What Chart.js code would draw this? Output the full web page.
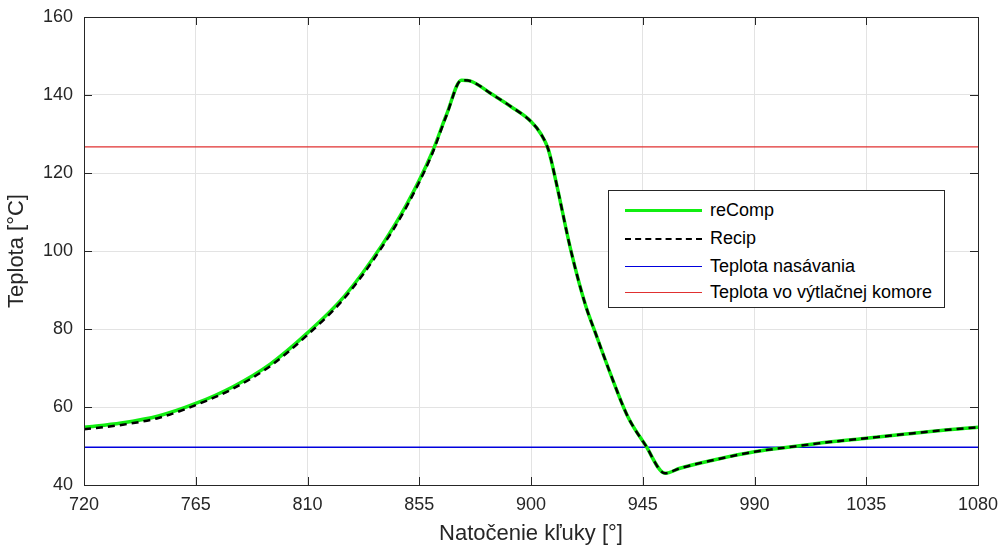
<!DOCTYPE html>
<html>
<head>
<meta charset="utf-8">
<script src="https://cdn.jsdelivr.net/npm/chart.js@4/dist/chart.umd.min.js"></script>
<style>
  body { margin: 0; background: #fff; }
  #wrap { position: relative; width: 1003px; height: 551px; }
  #legend {
    position: absolute; left: 608px; top: 190px; width: 335px; height: 116px;
    border: 1px solid #262626; background: #fff;
    font-family: "Liberation Sans", Arial, sans-serif; font-size: 18px; color: #000;
  }
  .item { position: absolute; left: 0; height: 20px; }
  .item .ln { position: absolute; left: 16px; width: 77px; top: 10px; }
  .item span { position: absolute; left: 101px; top: 0px; white-space: nowrap; }
</style>
</head>
<body>
<div id="wrap">
  <canvas id="tempChart" width="1003" height="551"></canvas>
  <div id="legend">
    <div class="item" style="top:9px"><div class="ln" style="border-top:3px solid #11ee11;top:9px"></div><span>reComp</span></div>
    <div class="item" style="top:37px"><div class="ln" style="border-top:2px dashed #000;top:10px"></div><span>Recip</span></div>
    <div class="item" style="top:65px"><div class="ln" style="border-top:1.5px solid #0000dd;top:10px"></div><span>Teplota nasávania</span></div>
    <div class="item" style="top:91px"><div class="ln" style="border-top:1.5px solid #e03030;top:10px"></div><span>Teplota vo výtlačnej komore</span></div>
  </div>
</div>
<script>
// crank angle [deg] and temperature [C]
const angle = [720, 735, 750, 765, 780, 795, 810, 825, 840, 850, 860, 866, 872, 876, 884, 892, 900, 904, 907, 910, 916, 922, 926, 932, 939, 946, 954, 960, 975, 990, 1005, 1020, 1035, 1050, 1065, 1080];
const recompTemp = [54.8, 55.9, 57.7, 60.9, 65.2, 71.0, 79.0, 88.5, 101.5, 112.0, 125.0, 135.0, 143.8, 143.5, 140.3, 137.0, 133.2, 130.0, 126.0, 118.0, 100.3, 86.0, 78.9, 68.5, 57.5, 50.3, 43.0, 44.3, 46.6, 48.5, 49.8, 51.0, 52.0, 53.0, 54.0, 54.8];
const recipTemp = [54.3, 55.4, 57.2, 60.5, 64.7, 70.5, 78.5, 88.0, 101.0, 111.5, 124.6, 134.8, 143.8, 143.5, 140.3, 137.0, 133.2, 130.0, 126.0, 118.0, 100.3, 86.0, 78.9, 68.5, 57.5, 50.3, 43.0, 44.3, 46.6, 48.5, 49.8, 51.0, 52.0, 53.0, 54.0, 54.8];
const suctionTemp = 49.7;
const dischargeTemp = 126.7;
const xTicks = [720, 765, 810, 855, 900, 945, 990, 1035, 1080];
const yTicks = [40, 60, 80, 100, 120, 140, 160];

const toPoints = (xs, ys) => xs.map((x, i) => ({ x: x, y: ys[i] }));
const flatLine = v => [{ x: xTicks[0], y: v }, { x: xTicks[xTicks.length - 1], y: v }];

// box around plot + inward ticks like matlab
const boxPlugin = {
  id: 'box',
  afterDatasetsDraw(chart) {
    const { ctx, chartArea: a, scales } = chart;
    ctx.save();
    ctx.strokeStyle = '#262626';
    ctx.lineWidth = 1;
    ctx.beginPath();
    xTicks.forEach(v => {
      const px = Math.round(scales.x.getPixelForValue(v)) + 0.5;
      ctx.moveTo(px, a.bottom); ctx.lineTo(px, a.bottom - 8);
      ctx.moveTo(px, a.top); ctx.lineTo(px, a.top + 8);
    });
    yTicks.forEach(v => {
      const py = Math.round(scales.y.getPixelForValue(v)) + 0.5;
      ctx.moveTo(a.left, py); ctx.lineTo(a.left + 8, py);
      ctx.moveTo(a.right, py); ctx.lineTo(a.right - 8, py);
    });
    ctx.stroke();
    ctx.strokeRect(Math.round(a.left) + 0.5, Math.round(a.top) + 0.5, Math.round(a.width), Math.round(a.height));
    ctx.restore();
  }
};

Chart.defaults.font.family = '"Liberation Sans", Arial, sans-serif';
Chart.defaults.color = '#262626';

const ctx = document.getElementById('tempChart').getContext('2d');
const chart = new Chart(ctx, {
  type: 'line',
  data: {
    datasets: [
      {
        label: 'Recip',
        data: toPoints(angle, recipTemp),
        borderColor: '#000000',
        borderWidth: 2.5,
        borderDash: [7, 5],
        pointRadius: 0,
        cubicInterpolationMode: 'monotone',
        order: 1
      },
      {
        label: 'reComp',
        data: toPoints(angle, recompTemp),
        borderColor: '#11ee11',
        borderWidth: 3.5,
        pointRadius: 0,
        cubicInterpolationMode: 'monotone',
        order: 2
      },
      {
        label: 'Teplota nasávania',
        data: flatLine(suctionTemp),
        borderColor: '#0000dd',
        borderWidth: 1.5,
        pointRadius: 0,
        order: 3
      },
      {
        label: 'Teplota vo výtlačnej komore',
        data: flatLine(dischargeTemp),
        borderColor: '#e03030',
        borderWidth: 1.2,
        pointRadius: 0,
        order: 3
      }
    ]
  },
  options: {
    responsive: false,
    animation: false,
    layout: { padding: { top: 17, right: 25, left: 0, bottom: 0 } },
    plugins: { legend: { display: false }, tooltip: { enabled: false } },
    scales: {
      x: {
        type: 'linear',
        min: 720, max: 1080,
        afterBuildTicks: s => { s.ticks = xTicks.map(v => ({ value: v })); },
        afterFit: s => { s.height = 66; s.paddingLeft = 0; s.paddingRight = 0; },
        grid: { color: '#e3e3e3', drawTicks: false },
        border: { display: false },
        ticks: { padding: 9, font: { size: 18 }, color: '#262626', callback: v => String(v) },
        title: { display: true, text: 'Natočenie kľuky [°]', font: { size: 22 }, color: '#262626', padding: { top: 6 } }
      },
      y: {
        min: 40, max: 160,
        afterBuildTicks: s => { s.ticks = yTicks.map(v => ({ value: v })); },
        afterFit: s => { s.width = 84; s.paddingTop = 0; s.paddingBottom = 0; },
        grid: { color: '#e3e3e3', drawTicks: false },
        border: { display: false },
        ticks: { padding: 11, font: { size: 18 }, color: '#262626', callback: v => String(v) },
        title: { display: true, text: 'Teplota [°C]', font: { size: 22 }, color: '#262626', padding: { bottom: 4 } }
      }
    }
  },
  plugins: [boxPlugin]
});
</script>
</body>
</html>
